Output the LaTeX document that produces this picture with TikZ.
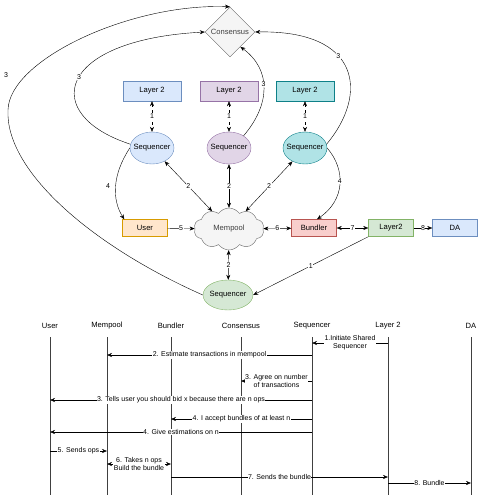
\documentclass[tikz,border=0pt]{standalone}
\usepackage{fontspec}
\setmainfont{Liberation Sans}
\usepackage{tikz}
\usetikzlibrary{arrows.meta,shapes.geometric,shapes.symbols,positioning,calc}

\definecolor{blueF}{HTML}{DAE8FC}
\definecolor{blueS}{HTML}{6C8EBF}
\definecolor{purpF}{HTML}{E1D5E7}
\definecolor{purpS}{HTML}{9673A6}
\definecolor{tealF}{HTML}{B0E3E6}
\definecolor{tealS}{HTML}{0E8088}
\definecolor{orF}{HTML}{FFE6CC}
\definecolor{orS}{HTML}{D79B00}
\definecolor{redF}{HTML}{F8CECC}
\definecolor{redS}{HTML}{B85450}
\definecolor{grnF}{HTML}{D5E8D4}
\definecolor{grnS}{HTML}{82B366}
\definecolor{grayF}{HTML}{F5F5F5}
\definecolor{grayS}{HTML}{666666}

\begin{document}
\begin{tikzpicture}[x=1pt,y=-1pt,>={Stealth[length=5pt,width=4pt]},
  every node/.style={font=\fontsize{7.6}{9}\selectfont},
  box/.style={draw,rectangle,minimum width=45pt,minimum height=17pt,inner sep=1pt},
  lbox/.style={box,minimum width=58pt,minimum height=20pt},
  seq/.style={draw,ellipse,minimum width=44pt,minimum height=32pt,inner xsep=-4pt,inner ysep=0pt},
  lbl/.style={fill=white,inner sep=0.5pt,font=\fontsize{7}{8.2}\selectfont},
  life/.style={draw=black!75,line width=0.6pt},
]
\useasboundingbox (0,0) rectangle (486,500);
%% overview
\node (con) at (230,32) [diamond,draw=grayS,fill=grayF,text=black!75,minimum size=50pt,inner sep=0pt] {Consensus};
\node (l2a) at (152,91) [lbox,draw=blueS,fill=blueF] {Layer 2};
\node (l2b) at (229,91) [lbox,draw=purpS,fill=purpF] {Layer 2};
\node (l2c) at (305,91) [lbox,draw=tealS,fill=tealF] {Layer 2};
\node (seqA) at (152,148) [seq,draw=blueS,fill=blueF] {Sequencer};
\node (seqB) at (229,148) [seq,draw=purpS,fill=purpF] {Sequencer};
\node (seqC) at (305,148) [seq,draw=tealS,fill=tealF] {Sequencer};
\node (user) at (145,228) [box,draw=orS,fill=orF] {User};
\node (mem) at (229,229) [cloud,cloud puffs=10,cloud puff arc=110,aspect=1.8,draw=grayS,fill=grayF,
  text=black!75,minimum width=70pt,minimum height=42pt,inner sep=0pt] {Mempool};
\node (bun) at (314,228) [box,draw=redS,fill=redF] {Bundler};
\node (lay2) at (391,228) [box,draw=grnS,fill=grnF] {Layer2};
\node (da) at (455,228) [box,draw=blueS,fill=blueF] {DA};
\node (seqD) at (228,295) [seq,minimum width=50pt,minimum height=30pt,draw=grnS,fill=grnF] {Sequencer};
%
\draw [<->,dashed] (l2a) -- node[lbl]{1} (seqA);
\draw [<->,dashed] (l2b) -- node[lbl]{1} (seqB);
\draw [<->,dashed] (l2c) -- node[lbl]{1} (seqC);
\draw [<->] (seqA) -- node[lbl]{2} (mem);
\draw [<->] (seqB) -- node[lbl]{2} (mem);
\draw [<->] (seqC) -- node[lbl]{2} (mem);
\draw [<->] (mem) -- node[lbl]{2} (seqD);
\draw [->] (user) -- node[lbl]{5} (mem);
\draw [<->] (mem) -- node[lbl]{6} (bun);
\draw [<->] (bun) -- node[lbl]{7} (lay2);
\draw [->] (lay2) -- node[lbl]{8} (da);
\draw [->] (lay2.south west) -- node[lbl]{1} (seqD.east);
\draw [->] (seqA.west) ..controls (112,175) and (112,200) .. node[lbl,pos=.5,left=5pt,fill=none]{4} ([xshift=2pt]user.north west);
\draw [->] (seqC.east) ..controls (346,170) and (345,200) .. node[lbl,pos=.45]{4} ([xshift=3pt]bun.north);
\draw [->] (seqA.170) ..controls (40,115) and (55,40) .. node[lbl,pos=.52]{3} (con.west);
\draw [->] (seqB.40) ..controls (270,105) and (272,70) .. node[lbl,pos=.55]{3} (con.-55);
\draw [->] (seqC.10) ..controls (368,95) and (362,30) .. node[lbl,pos=.6]{3} (con.east);
\draw [->] (seqD.west) ..controls (90,245) and (5,170) .. (8,110)
  ..controls (9,60) and (130,3) .. (con.north);
\node at (6,75) [lbl] {3};
%% sequence
\node (sUser) at (50,326) {User};
\node (sMem) at (107,326) {Mempool};
\node (sBun) at (171,326) {Bundler};
\node (sCon) at (241,326) {Consensus};
\node (sSeq) at (312,326) {Sequencer};
\node (sL2) at (388,326) {Layer 2};
\node (sDA) at (471,326) {DA};
\draw [life] (sUser |- 0,337) -- (sUser |- 0,495);
\draw [life] (sMem |- 0,337) -- (sMem |- 0,495);
\draw [life] (sBun |- 0,337) -- (sBun |- 0,495);
\draw [life] (sCon |- 0,337) -- (sCon |- 0,495);
\draw [life] (sSeq |- 0,337) -- (sSeq |- 0,495);
\draw [life] (sL2 |- 0,337) -- (sL2 |- 0,495);
\draw [life] (sDA |- 0,337) -- (sDA |- 0,495);
%
\draw [->] (sL2 |- 0,343) -- node[lbl,align=center]{1.Initiate Shared\\Sequencer} (sSeq |- 0,343);
\draw [->] (sSeq |- 0,355) -- node[lbl]{2. Estimate transactions in mempool} (sMem |- 0,355);
\draw [->] (sSeq |- 0,381) -- node[lbl,align=center]{3. Agree on number\\of transactions} (sCon |- 0,381);
\draw [->] (sSeq |- 0,400) -- node[lbl]{3. Tells user you should bid x because there are n ops} (sUser |- 0,400);
\draw [->] (sSeq |- 0,419) -- node[lbl]{4. I accept bundles of at least n} (sBun |- 0,419);
\draw [->] (sSeq |- 0,432) -- node[lbl]{4. Give estimations on n} (sUser |- 0,432);
\draw [->] (sUser |- 0,451) -- node[lbl]{5. Sends ops} (sMem |- 0,451);
\draw [<->] (sMem |- 0,464) -- node[lbl,align=center]{6. Takes n ops\\Build the bundle} (sBun |- 0,464);
\draw [->] (sBun |- 0,477) -- node[lbl]{7. Sends the bundle} (sL2 |- 0,477);
\draw [->] (sL2 |- 0,483) -- node[lbl]{8. Bundle} (sDA |- 0,483);
%
\end{tikzpicture}
\end{document}
